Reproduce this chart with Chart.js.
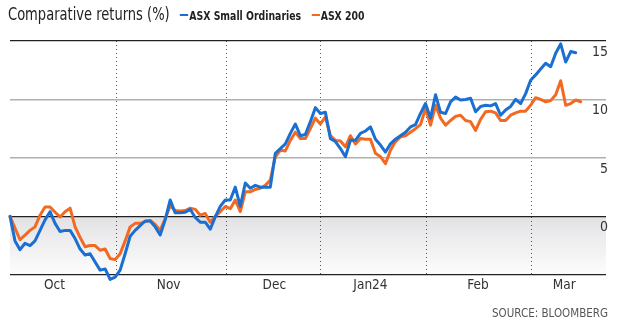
<!DOCTYPE html>
<html>
<head>
<meta charset="utf-8">
<script src="https://cdn.jsdelivr.net/npm/chart.js@4.4.1/dist/chart.umd.min.js"></script>
<style>
  html, body { margin: 0; padding: 0; background: #fff; }
  #wrap { position: relative; width: 620px; height: 327px; overflow: hidden; }
  #wrap canvas { position: absolute; left: 0; top: 0; }
  .narrow { font-family: "Liberation Sans Narrow", "DejaVu Sans Condensed", "Roboto", sans-serif; }
  #head { position: absolute; left: 8px; top: 4px; white-space: nowrap; color: #222;
          transform: scaleX(0.83); transform-origin: 0 0; }
  #head .title { font-size: 17.5px; }
  #head .key { font-size: 12.5px; font-weight: bold; margin-left: 8px; }
  #head .dash { display: inline-block; width: 10px; height: 2px; vertical-align: 4px; margin-right: 1px; }
  #source { position: absolute; right: 12px; top: 306px; font-size: 11.5px; color: #555; }
</style>
</head>
<body>
<div id="wrap">
  <canvas id="returns"></canvas>
  <div id="head" class="narrow">
    <span class="title">Comparative returns (%)</span>
    <span class="key"><span class="dash" style="background:#1a6fd1"></span>ASX Small Ordinaries</span>
    <span class="key"><span class="dash" style="background:#f26a21"></span>ASX 200</span>
  </div>
  <div id="source" class="narrow">SOURCE: BLOOMBERG</div>
</div>
<script>
// cumulative % return, one value per trading day from end of September
const smallOrds = [
  0, -2.1, -2.85, -2.3, -2.5, -2.1, -1.2, -0.3, 0.4, -0.6,
  -1.3, -1.2, -1.2, -1.9, -2.8, -3.3, -3.2, -3.9, -4.6, -4.5,
  -5.4, -5.2, -4.6, -3.2, -1.7, -1.2, -0.8, -0.4, -0.4, -0.9,
  -1.6, -0.3, 1.4, 0.3, 0.3, 0.35, 0.6, -0.1, -0.5, -0.5,
  -1.1, -0.05, 0.85, 1.4, 1.4, 2.5, 0.85, 2.85, 2.4, 2.65,
  2.5, 2.5, 2.5, 5.4, 5.8, 6.2, 7.1, 7.9, 6.9, 7.0,
  8.1, 9.3, 8.8, 8.9, 6.65, 6.4, 5.8, 5.1, 6.5, 6.5,
  7.1, 7.3, 7.65, 6.6, 6.1, 5.5, 6.2, 6.6, 6.9, 7.2,
  7.65, 7.85, 8.8, 9.65, 8.4, 10.4, 8.9, 8.8, 9.8, 10.2,
  9.95, 10.0, 10.1, 8.95, 9.4, 9.5, 9.45, 9.65, 8.65, 9.1,
  9.4, 10.0, 9.65, 10.5, 11.65, 12.1, 12.6, 13.1, 12.8, 13.95,
  14.75, 13.2, 14.1, 14.0
]
const asx200 = [
  0, -1.0, -2.0, -1.6, -1.2, -0.9, 0.1, 0.8, 0.8, 0.35,
  -0.05, 0.4, 0.7, -0.9, -1.8, -2.6, -2.5, -2.5, -2.9, -2.8,
  -3.6, -3.7, -3.2, -2.1, -0.9, -0.6, -0.6, -0.45, -0.35, -0.7,
  -1.2, -0.2, 0.9, 0.5, 0.45, 0.5, 0.7, 0.6, 0.1, 0.25,
  -0.5, 0, 0.4, 0.85, 0.65, 1.4, 0.4, 2.1, 2.1, 2.3,
  2.4, 2.65, 3.1, 5.1, 5.65, 5.6, 6.5, 7.2, 6.65, 6.65,
  7.5, 8.4, 7.9, 8.5, 6.9, 6.5, 6.45, 5.95, 6.9, 6.2,
  6.65, 6.6, 6.6, 5.4, 5.1, 4.5, 5.65, 6.4, 6.8, 6.9,
  7.2, 7.5, 7.85, 9.2, 7.8, 9.5, 8.4, 7.8, 8.2, 8.55,
  8.65, 8.2, 8.1, 7.35, 8.3, 8.95, 9.0, 8.85, 8.2, 8.2,
  8.65, 8.85, 9.0, 9.0, 9.5, 10.15, 10.0, 9.8, 9.9, 10.4,
  11.6, 9.5, 9.65, 9.95, 9.8
]

// month names and where they sit, in trading-day units
const months = ['Oct', 'Nov', 'Dec', 'Jan24', 'Feb', 'Mar']
const monthCentres = [8.9, 31.7, 52.8, 72.0, 93.5, 110.7]
const monthEnds = [21.2, 43.25, 62.1, 83.1, 104.2]
const yTicks = [-5, 0, 5, 10, 15]

const X_MAX = 119.05
const FONT = '"Liberation Sans Narrow", "DejaVu Sans Condensed", "Roboto", sans-serif'

const toPoints = arr => arr.map((v, i) => ({ x: i, y: v }))

// grey wash under the zero line
const belowZero = {
  id: 'belowZero',
  beforeDraw(chart) {
    const { ctx, chartArea, scales } = chart
    const y0 = scales.y.getPixelForValue(0)
    const y1 = scales.y.getPixelForValue(-5)
    const g = ctx.createLinearGradient(0, y0, 0, y1)
    g.addColorStop(0, '#e2e2e5')
    g.addColorStop(1, '#fdfdfd')
    ctx.save()
    ctx.fillStyle = g
    ctx.fillRect(chartArea.left, y0, chartArea.right - chartArea.left, y1 - y0)
    ctx.restore()
  }
}

new Chart(document.getElementById('returns'), {
  type: 'line',
  data: {
    datasets: [
      {
        label: 'ASX Small Ordinaries',
        data: toPoints(smallOrds),
        borderColor: '#1a6fd1',
        borderWidth: 3,
        clip: false
      },
      {
        label: 'ASX 200',
        data: toPoints(asx200),
        borderColor: '#f26a21',
        borderWidth: 3,
        clip: false
      }
    ]
  },
  options: {
    responsive: true,
    maintainAspectRatio: false,
    animation: false,
    events: [],
    layout: { padding: { top: 41, left: 10, right: 10, bottom: 30 } },
    elements: {
      point: { radius: 0 },
      line: { tension: 0, borderJoinStyle: 'round', borderCapStyle: 'round' }
    },
    plugins: {
      legend: { display: false },
      tooltip: { enabled: false }
    },
    scales: {
      x: {
        type: 'linear',
        min: 0,
        max: X_MAX,
        afterBuildTicks: s => { s.ticks = monthEnds.map(v => ({ value: v })) },
        ticks: { display: false },
        grid: { color: '#555', lineWidth: 1, drawTicks: false },
        border: { display: false, dash: [1, 3] }
      },
      months: {
        type: 'linear',
        position: 'bottom',
        min: 0,
        max: X_MAX,
        afterBuildTicks: s => { s.ticks = monthCentres.map(v => ({ value: v })) },
        ticks: {
          autoSkip: false,
          maxRotation: 0,
          padding: 3,
          color: '#333',
          font: { family: FONT, size: 13.5 },
          callback: (v, i) => months[i]
        },
        grid: { display: false, drawTicks: false },
        border: { display: false }
      },
      y: {
        position: 'right',
        min: -5,
        max: 15,
        afterBuildTicks: s => { s.ticks = yTicks.map(v => ({ value: v })) },
        ticks: {
          mirror: true,
          padding: 2,
          labelOffset: 11,
          color: '#333',
          font: { family: FONT, size: 14 },
          callback: v => (v < 0 ? '' : v)
        },
        grid: {
          drawTicks: false,
          color: c => (c.tick.value === 5 || c.tick.value === 10 ? '#b0b0b0' : '#222'),
          lineWidth: c => (c.tick.value === 5 || c.tick.value === 10 ? 1.5 : 1.2)
        },
        border: { display: false }
      }
    }
  },
  plugins: [belowZero]
})
</script>
</body>
</html>
